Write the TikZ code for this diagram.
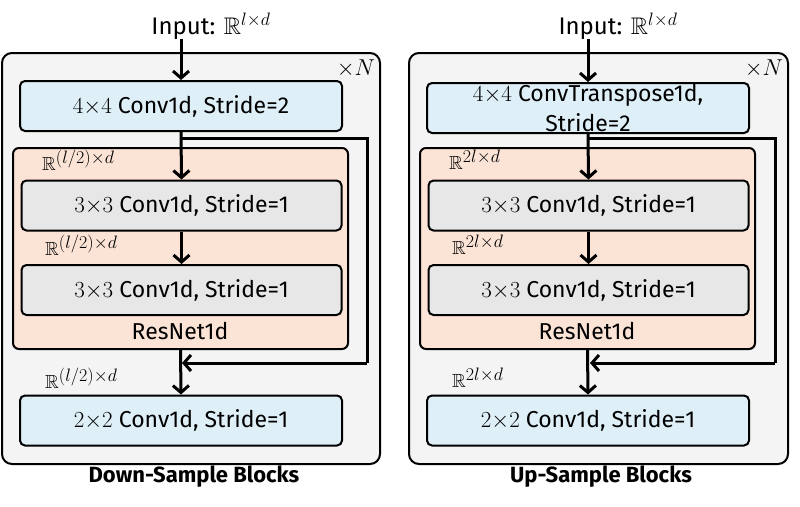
\RequirePackage{fix-cm}
\documentclass[tikz,border=0pt]{standalone}
\usepackage{amssymb}
\usepackage{fontspec}
\setmainfont{Fira Sans}
\usetikzlibrary{arrows.meta}
\newcommand{\bigsup}[2]{^{\mbox{\fontsize{#1}{#1}\selectfont$#2$}}}
\definecolor{cblue}{HTML}{DEEFF8}
\definecolor{cpink}{HTML}{FBE3D6}
\definecolor{cgrey}{HTML}{E7E7E7}
\definecolor{couter}{HTML}{F4F4F4}
\tikzset{
  outerbox/.style={draw=black, line width=2pt, fill=couter, rounded corners=10pt},
  bluebox/.style={draw=black, line width=2pt, fill=cblue, rounded corners=5pt, minimum width=322pt, minimum height=50pt, inner sep=0pt, align=center, font=\fontsize{23}{30}\selectfont},
  greybox/.style={draw=black, line width=2pt, fill=cgrey, rounded corners=5pt, minimum width=320pt, minimum height=50pt, inner sep=0pt, font=\fontsize{23}{28}\selectfont},
  pinkbox/.style={draw=black, line width=2pt, fill=cpink, rounded corners=6pt, minimum width=335pt, minimum height=201pt, inner sep=0pt},
  lbl/.style={font=\fontsize{23}{28}\selectfont, inner sep=0pt},
  dimlbl/.style={font=\fontsize{19}{22}\selectfont, inner sep=0pt, anchor=west},
  titlelbl/.style={font=\fontsize{22}{26}\selectfont\bfseries, inner sep=0pt},
  inlbl/.style={font=\fontsize{24}{28}\selectfont, inner sep=0pt},
  arr/.style={line width=3pt, -{Straight Barb[length=7pt,width=16pt,line width=3pt]}},
  skipline/.style={line width=3pt},
}
\begin{document}
\begin{tikzpicture}[x=1pt,y=-1pt]
\useasboundingbox (0,0) rectangle (800,506);
% ---------------- Left panel ----------------
\draw[outerbox] (2,53) rectangle (380,464);
\node[inlbl] (inL) at (211,26) {Input: $\mathbb{R}\bigsup{18}{l{\times}d}$};
\node[lbl] (nL) at (356,69) {$\times N$};
\node[bluebox] (tbL) at (181,106) {$4{\times}4$ Conv1d, Stride=2};
\node[pinkbox] (rbL) at (180.5,248.5) {};
\node[greybox] (g1L) at (181.5,205.5) {$3{\times}3$ Conv1d, Stride=1};
\node[greybox] (g2L) at (181.5,290) {$3{\times}3$ Conv1d, Stride=1};
\node[lbl] (resL) at (180,331) {ResNet1d};
\node[bluebox] (bbL) at (181,420.5) {$2{\times}2$ Conv1d, Stride=1};
\node[dimlbl] (d1L) at (42,160) {$\mathbb{R}\bigsup{18}{(l/2){\times}d}$};
\node[dimlbl] (d2L) at (45,245) {$\mathbb{R}\bigsup{18}{(l/2){\times}d}$};
\node[dimlbl] (d3L) at (45,378) {$\mathbb{R}\bigsup{18}{(l/2){\times}d}$};
\node[titlelbl] (tL) at (194,477) {Down-Sample Blocks};
\coordinate (s1L) at (180,138);
\coordinate (s2L) at (367,363);
\coordinate (s3L) at (182,363);
\draw[arr] (tbL.north |- inL.south) -- (tbL.north);
\draw[arr] (tbL.south) -- (g1L.north);
\draw[arr] (g1L.south) -- (g2L.north);
\draw[arr] (rbL.south) -- (bbL.north);
\draw[skipline] (s1L) -| (s2L);
\draw[arr] (s2L) -- (s3L);
% ---------------- Right panel ----------------
\draw[outerbox] (409,53) rectangle (788,464);
\node[inlbl] (inR) at (618,26) {Input: $\mathbb{R}\bigsup{18}{l{\times}d}$};
\node[lbl] (nR) at (764,69) {$\times N$};
\node[bluebox] (tbR) at (588,108) {$4{\times}4$ ConvTranspose1d,\\Stride=2};
\node[pinkbox] (rbR) at (587.5,248.5) {};
\node[greybox] (g1R) at (588.5,205.5) {$3{\times}3$ Conv1d, Stride=1};
\node[greybox] (g2R) at (588.5,290) {$3{\times}3$ Conv1d, Stride=1};
\node[lbl] (resR) at (587,331) {ResNet1d};
\node[bluebox] (bbR) at (588,420.5) {$2{\times}2$ Conv1d, Stride=1};
\node[dimlbl] (d1R) at (449,160) {$\mathbb{R}\bigsup{18}{2l{\times}d}$};
\node[dimlbl] (d2R) at (452,245) {$\mathbb{R}\bigsup{18}{2l{\times}d}$};
\node[dimlbl] (d3R) at (452,378) {$\mathbb{R}\bigsup{18}{2l{\times}d}$};
\node[titlelbl] (tR) at (601,477) {Up-Sample Blocks};
\coordinate (s1R) at (588,138);
\coordinate (s2R) at (775,363);
\coordinate (s3R) at (590,363);
\draw[arr] (tbR.north |- inR.south) -- (tbR.north);
\draw[arr] (tbR.south) -- (g1R.north);
\draw[arr] (g1R.south) -- (g2R.north);
\draw[arr] (rbR.south) -- (bbR.north);
\draw[skipline] (s1R) -| (s2R);
\draw[arr] (s2R) -- (s3R);
\end{tikzpicture}
\end{document}
